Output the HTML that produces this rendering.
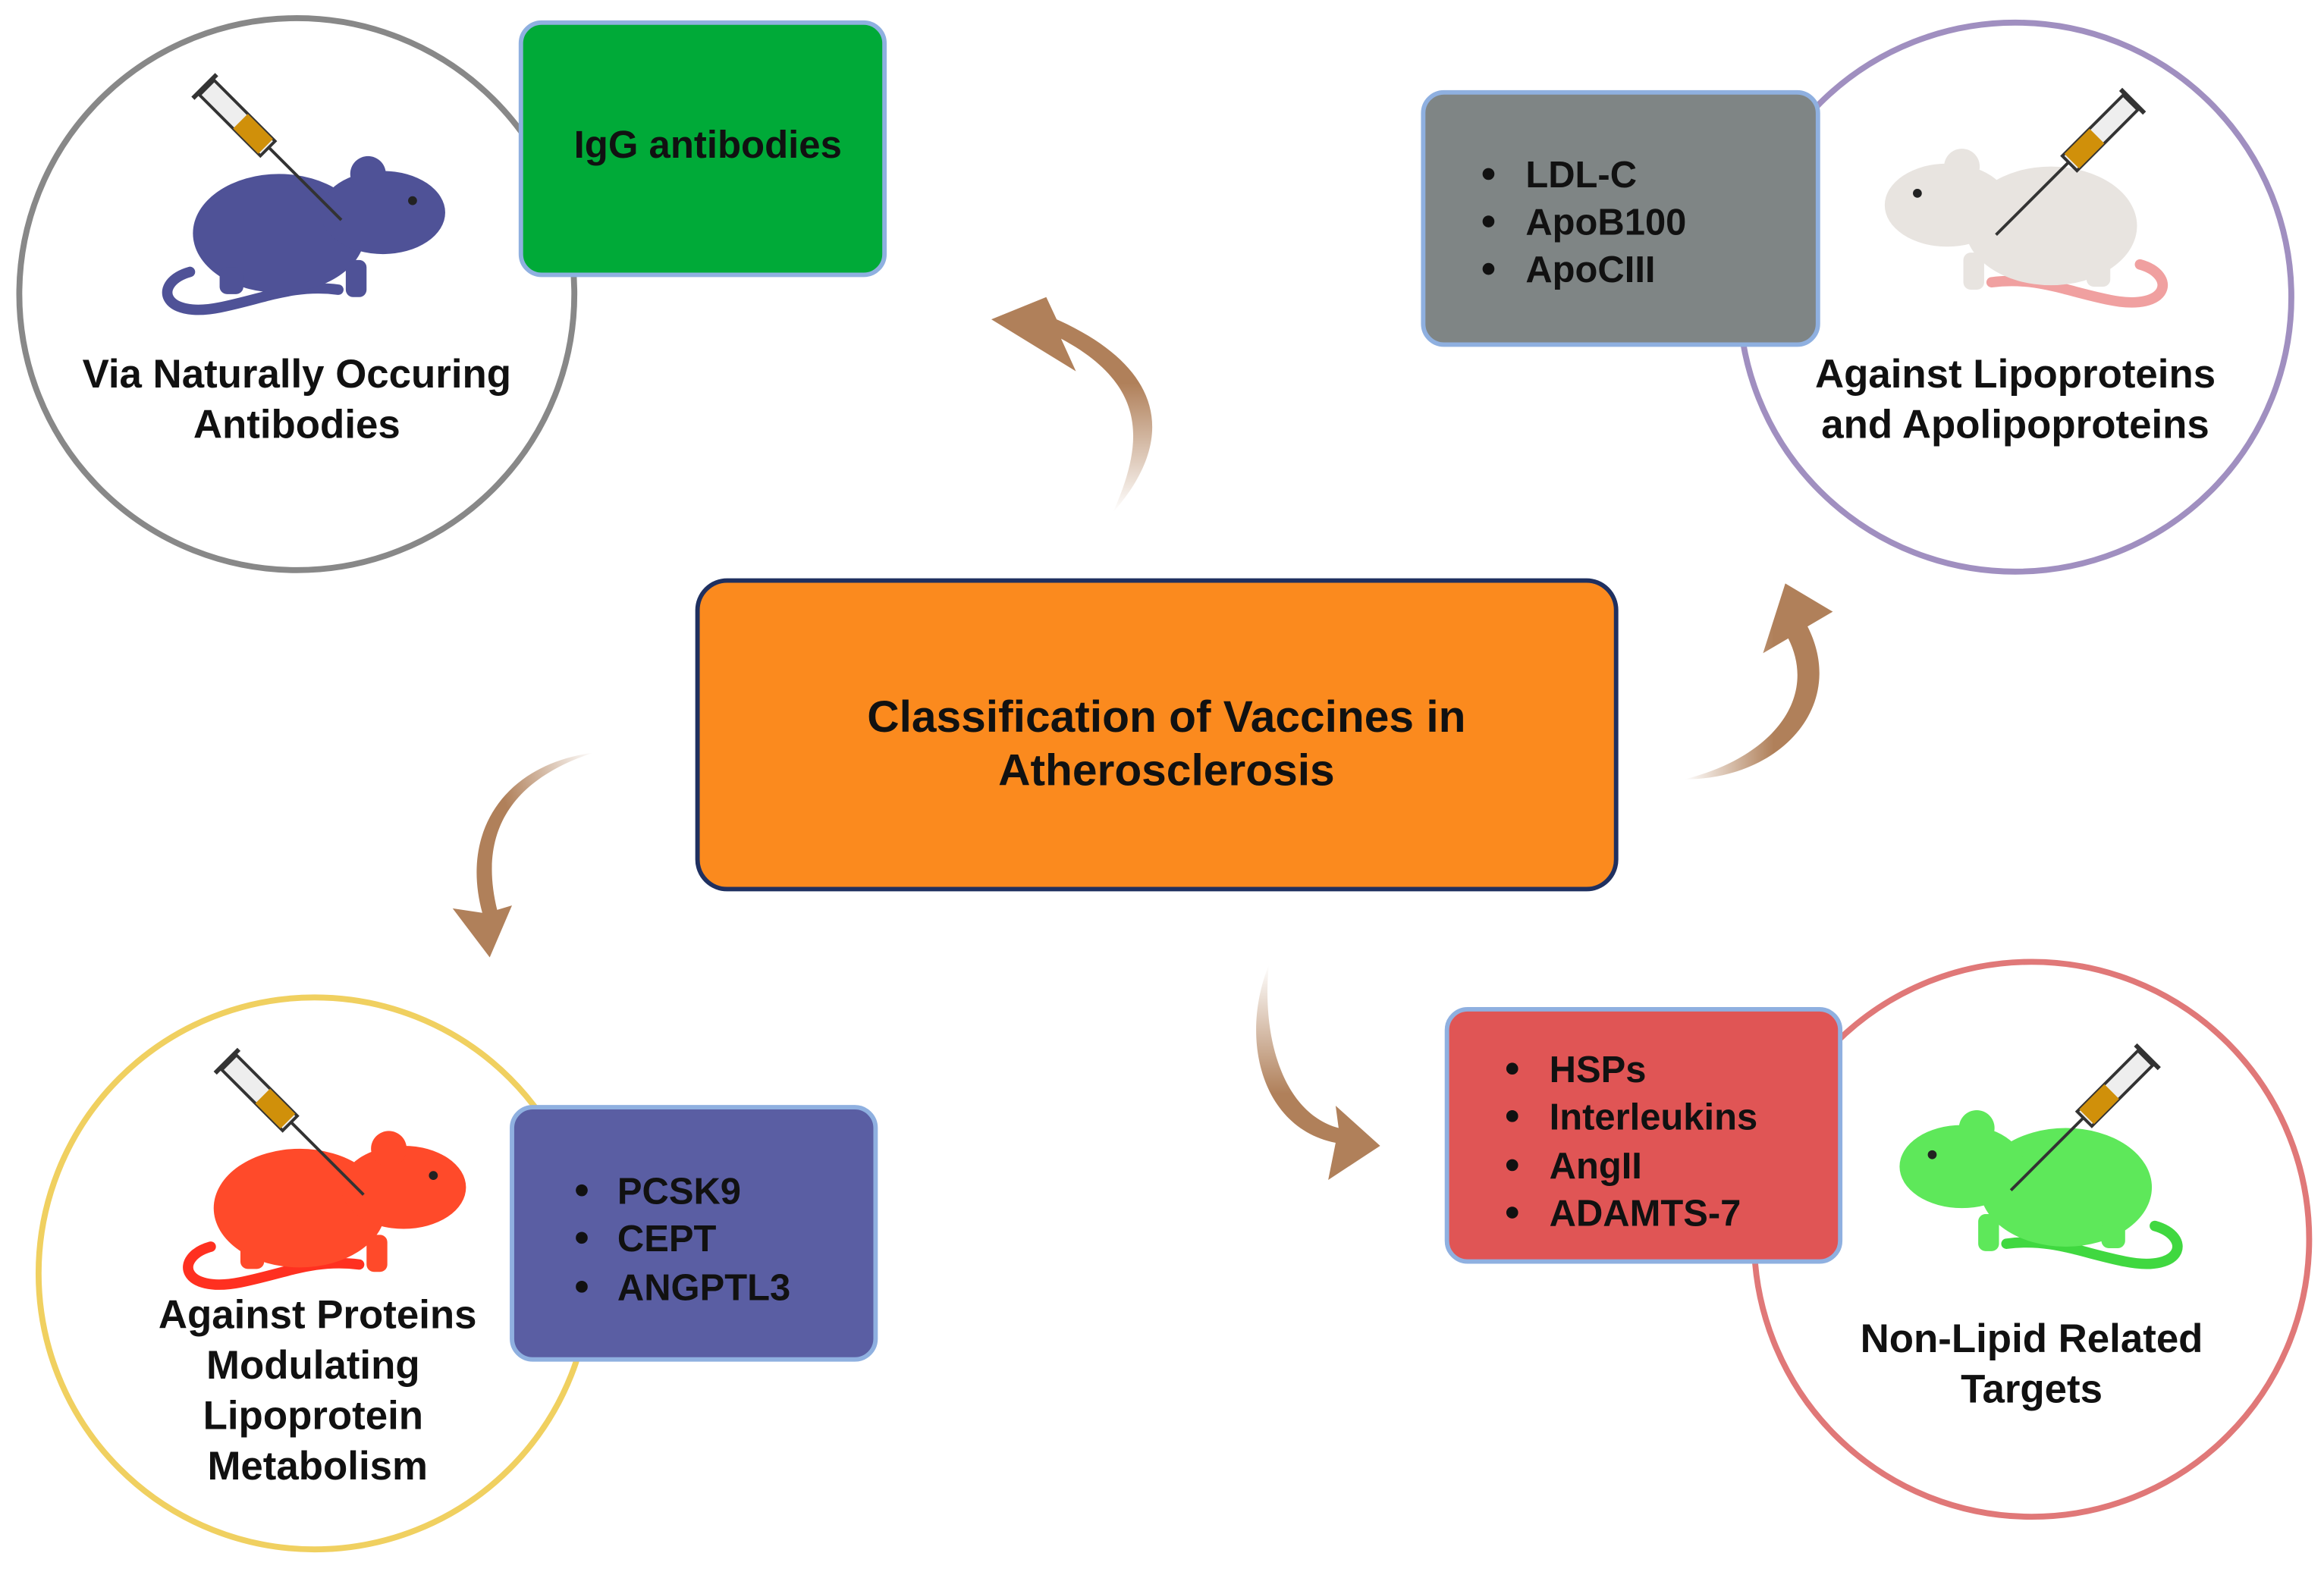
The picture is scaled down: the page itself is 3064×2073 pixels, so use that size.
<!DOCTYPE html>
<html><head><meta charset="utf-8"><style>
html,body{margin:0;padding:0;background:#fff;}
svg{display:block;}
text{font-family:"Liberation Sans",sans-serif;font-weight:bold;fill:#111;}
</style></head><body>
<svg width="3064" height="2073" viewBox="0 0 1566 1059" xmlns="http://www.w3.org/2000/svg">
<defs>
<linearGradient id="g1" x1="0" y1="1" x2="0" y2="0"><stop offset="0" stop-color="#b0805a" stop-opacity="0"/><stop offset="0.6" stop-color="#b0805a"/></linearGradient>
<linearGradient id="g2" x1="0" y1="0" x2="1" y2="0"><stop offset="0" stop-color="#b0805a" stop-opacity="0"/><stop offset="0.6" stop-color="#b0805a"/></linearGradient>
<linearGradient id="g3" x1="1" y1="0" x2="0" y2="0.5"><stop offset="0" stop-color="#b0805a" stop-opacity="0"/><stop offset="0.6" stop-color="#b0805a"/></linearGradient>
<linearGradient id="g4" x1="0" y1="0" x2="0" y2="1"><stop offset="0" stop-color="#b0805a" stop-opacity="0"/><stop offset="0.6" stop-color="#b0805a"/></linearGradient>
<g id="mouse">
<path d="M20 88 C -5 95, 0 120, 40 112 C 70 106, 90 96, 120 100" fill="none" stroke="currentColor" stroke-width="7" stroke-linecap="round"/>
<ellipse cx="80" cy="62" rx="58" ry="40"/>
<ellipse cx="150" cy="48" rx="42" ry="28"/>
<circle cx="140" cy="22" r="12"/>
<rect x="125" y="80" width="14" height="25" rx="5"/>
<rect x="40" y="85" width="16" height="18" rx="5"/>
<circle cx="170" cy="40" r="3" fill="#222"/>
</g>
<g id="syr">
<line x1="-10" y1="-10" x2="80" y2="80" stroke="#333" stroke-width="2"/>
<rect x="-14" y="-6" width="58" height="14" transform="rotate(45)" fill="#eee" stroke="#333" stroke-width="2"/>
<rect x="18" y="-6" width="24" height="14" transform="rotate(45)" fill="#d0900a"/>
<line x1="-20" y1="-2" x2="-4" y2="-18" stroke="#333" stroke-width="3"/>
</g>
</defs>

<!-- Circle 1 -->
<ellipse cx="200" cy="198" rx="187" ry="186" fill="#fff" stroke="#888" stroke-width="4"/>
<g fill="#4f5297" color="#4f5297" transform="translate(108,95)"><use href="#mouse"/></g>
<g transform="translate(150,68)"><use href="#syr"/></g>
<rect x="351" y="15" width="245" height="170" rx="14" fill="#00aa38" stroke="#8fb0e0" stroke-width="3"/>
<text x="477" y="106" font-size="26" text-anchor="middle">IgG antibodies</text>
<text x="200" y="261" font-size="27" text-anchor="middle">Via Naturally Occuring</text>
<text x="200" y="295" font-size="27" text-anchor="middle">Antibodies</text>

<!-- Circle 2 -->
<ellipse cx="1358" cy="200" rx="186" ry="185" fill="#fff" stroke="#a08fc0" stroke-width="4"/>
<g fill="#e8e4e0" color="#f0a0a0" transform="translate(1462,90) scale(-1,1)"><use href="#mouse"/></g>
<g transform="translate(1425,78) scale(-1,1)"><use href="#syr"/></g>
<rect x="959" y="62" width="266" height="170" rx="14" fill="#7f8585" stroke="#8fb0e0" stroke-width="3"/>
<g font-size="25"><circle cx="1003" cy="117" r="4" fill="#111"/><text x="1028" y="126">LDL-C</text>
<circle cx="1003" cy="149" r="4" fill="#111"/><text x="1028" y="158">ApoB100</text>
<circle cx="1003" cy="181" r="4" fill="#111"/><text x="1028" y="190">ApoCIII</text></g>
<text x="1358" y="261" font-size="27" text-anchor="middle">Against Lipoproteins</text>
<text x="1358" y="295" font-size="27" text-anchor="middle">and Apolipoproteins</text>

<!-- Circle 3 -->
<ellipse cx="212" cy="858" rx="186" ry="186" fill="#fff" stroke="#f0d060" stroke-width="4"/>
<g fill="#ff4a2a" color="#ff3020" transform="translate(122,752)"><use href="#mouse"/></g>
<g transform="translate(165,725)"><use href="#syr"/></g>
<rect x="345" y="746" width="245" height="170" rx="14" fill="#5a5ea3" stroke="#8fb0e0" stroke-width="3"/>
<g font-size="25"><circle cx="392" cy="802" r="4" fill="#111"/><text x="416" y="811">PCSK9</text>
<circle cx="392" cy="834" r="4" fill="#111"/><text x="416" y="843">CEPT</text>
<circle cx="392" cy="867" r="4" fill="#111"/><text x="416" y="876">ANGPTL3</text></g>
<g font-size="27" text-anchor="middle"><text x="214" y="895">Against Proteins</text><text x="211" y="929">Modulating</text><text x="211" y="963">Lipoprotein</text><text x="214" y="997">Metabolism</text></g>

<!-- Circle 4 -->
<ellipse cx="1369" cy="835" rx="187" ry="187" fill="#fff" stroke="#e07878" stroke-width="4"/>
<g fill="#5ee85a" color="#40d840" transform="translate(1472,738) scale(-1,1)"><use href="#mouse"/></g>
<g transform="translate(1435,722) scale(-1,1)"><use href="#syr"/></g>
<rect x="975" y="680" width="265" height="170" rx="14" fill="#e05555" stroke="#8fb0e0" stroke-width="3"/>
<g font-size="25"><circle cx="1019" cy="720" r="4" fill="#111"/><text x="1044" y="729">HSPs</text>
<circle cx="1019" cy="752" r="4" fill="#111"/><text x="1044" y="761">Interleukins</text>
<circle cx="1019" cy="785" r="4" fill="#111"/><text x="1044" y="794">AngII</text>
<circle cx="1019" cy="817" r="4" fill="#111"/><text x="1044" y="826">ADAMTS-7</text></g>
<text x="1369" y="911" font-size="27" text-anchor="middle">Non-Lipid Related</text>
<text x="1369" y="945" font-size="27" text-anchor="middle">Targets</text>

<!-- Center -->
<rect x="470" y="391" width="619" height="208" rx="20" fill="#fb8a1e" stroke="#1f3060" stroke-width="3"/>
<text x="786" y="493" font-size="30" text-anchor="middle">Classification of Vaccines in</text>
<text x="786" y="529" font-size="30" text-anchor="middle">Atherosclerosis</text>

<!-- Arrows -->
<path d="M750 345 C 770 300, 775 260, 715 228 L 725 250 L 668 215 L 705 200 L 712 215 C 790 250, 790 300, 750 345 Z" fill="url(#g1)"/>
<path d="M1135 525 C 1195 510, 1225 470, 1205 430 L 1188 440 L 1203 393 L 1235 412 L 1218 422 C 1245 475, 1200 525, 1135 525 Z" fill="url(#g2)"/>
<path d="M400 507 C 340 515, 310 560, 325 615 L 305 612 L 330 645 L 345 610 L 335 613 C 322 560, 345 525, 400 507 Z" fill="url(#g3)"/>
<path d="M855 650 C 835 700, 850 760, 900 770 L 895 795 L 930 772 L 900 745 L 902 760 C 865 750, 850 700, 855 650 Z" fill="url(#g4)"/>
</svg>
</body></html>
